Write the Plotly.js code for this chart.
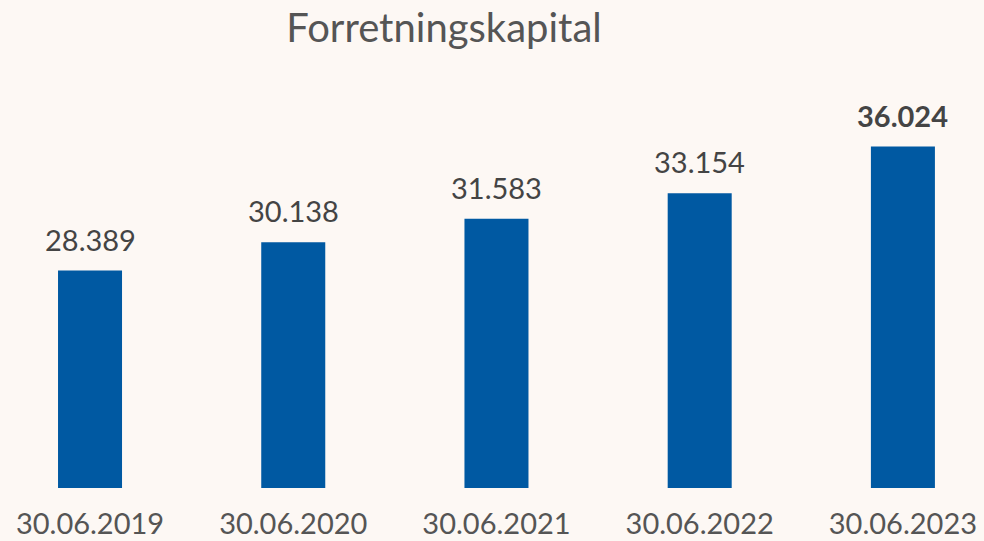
<!DOCTYPE html>
<html>
<head>
<meta charset="utf-8">
<script src="https://cdn.plot.ly/plotly-3.0.1.min.js"></script>
<style>
html,body{margin:0;padding:0;background:#FDF8F4;}
#chart{width:984px;height:541px;}
</style>
</head>
<body>
<div id="chart"></div>
<script>
const categories = ["30.06.2019", "30.06.2020", "30.06.2021", "30.06.2022", "30.06.2023"];
const values = [28389, 30138, 31583, 33154, 36024];
const boldFlags = [false, false, false, false, true];
const chartTitle = "Forretningskapital";

function fmt(v) {
  return String(v).replace(/\B(?=(\d{3})+(?!\d))/g, ".");
}

const FONT = "Lato, 'Open Sans', sans-serif";

const trace = {
  type: "bar",
  x: categories,
  y: values,
  marker: {color: "#0059A2"},
  width: 0.315,
  hoverinfo: "skip"
};

const annotations = categories.map((c, i) => ({
  x: c,
  y: values[i],
  xref: "x",
  yref: "y",
  text: boldFlags[i] ? "<b>" + fmt(values[i]) + "</b>" : fmt(values[i]),
  showarrow: false,
  yanchor: "bottom",
  yshift: 12,
  font: {family: FONT, size: 29, color: "#444444"}
}));

const layout = {
  width: 984,
  height: 541,
  paper_bgcolor: "#FDF8F4",
  plot_bgcolor: "#FDF8F4",
  margin: {l: 0, r: 0, t: 82, b: 53},
  showlegend: false,
  title: {
    text: chartTitle,
    x: 444 / 984,
    xanchor: "center",
    xref: "container",
    y: 1 - 28 / 541,
    yanchor: "middle",
    yref: "container",
    font: {family: FONT, size: 40, color: "#555555"}
  },
  xaxis: {
    type: "category",
    range: [-0.443, 4.399],
    showgrid: false,
    zeroline: false,
    showline: false,
    ticks: "",
    tickfont: {family: FONT, size: 29, color: "#555555"},
    ticklabelstandoff: 16
  },
  yaxis: {
    range: [15000, 40000],
    visible: false,
    showgrid: false,
    zeroline: false
  },
  annotations: annotations
};

Plotly.newPlot("chart", [trace], layout, {displayModeBar: false, staticPlot: true});
</script>
</body>
</html>
